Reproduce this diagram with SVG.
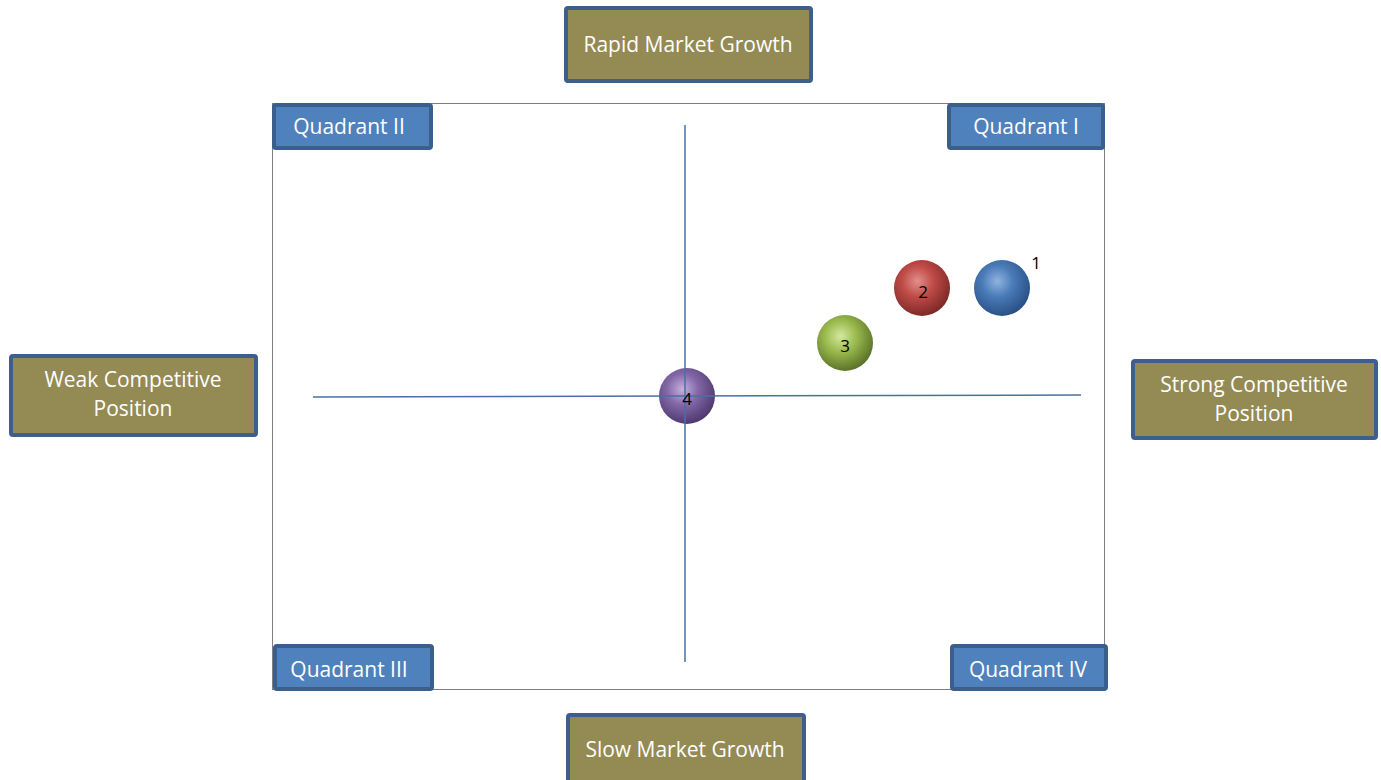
<svg xmlns="http://www.w3.org/2000/svg" width="1381" height="780" viewBox="0 0 1381 780">
<style>
.axis{fill:#948a54;stroke:#3d5f8c;stroke-width:4}
.quad{fill:#4f81bd;stroke:#3a5f8c;stroke-width:4}
.lbl{font-family:"Open Sans","Liberation Sans",sans-serif;font-size:21px;fill:#ffffff;text-anchor:middle}
.num{font-family:"Open Sans","Liberation Sans",sans-serif;font-size:17px;fill:#000;text-anchor:middle}
.line{stroke:#4a6fa5;stroke-width:1.5;fill:none}
</style>
<defs>
<radialGradient id="gBlue" cx="0.42" cy="0.38" r="0.62">
<stop offset="0" stop-color="#8fb4e0"/><stop offset="0.45" stop-color="#4a7bb8"/><stop offset="1" stop-color="#2a5186"/>
</radialGradient>
<radialGradient id="gRed" cx="0.42" cy="0.38" r="0.62">
<stop offset="0" stop-color="#e0908c"/><stop offset="0.45" stop-color="#c04b47"/><stop offset="1" stop-color="#7e2a28"/>
</radialGradient>
<radialGradient id="gGreen" cx="0.42" cy="0.38" r="0.62">
<stop offset="0" stop-color="#d5e8a0"/><stop offset="0.45" stop-color="#9bbb4f"/><stop offset="1" stop-color="#5c7428"/>
</radialGradient>
<radialGradient id="gPurple" cx="0.42" cy="0.38" r="0.62">
<stop offset="0" stop-color="#c4b2dc"/><stop offset="0.45" stop-color="#8368a8"/><stop offset="1" stop-color="#4f3a70"/>
</radialGradient>
</defs>
<rect width="1381" height="780" fill="#ffffff"/>
<rect id="frame" x="272.5" y="103.5" width="832" height="586" fill="none" stroke="#7f7f7f" stroke-width="1"/>
<g id="connectors">
<line class="line" x1="685" y1="125" x2="685" y2="662"/>
<line class="line" x1="313" y1="397" x2="1081" y2="395"/>
</g>
<g id="rapid"><rect class="axis" x="566" y="8" width="245" height="73" rx="2"/><text class="lbl" x="688" y="52">Rapid Market Growth</text></g>
<g id="slow"><rect class="axis" x="568" y="715" width="236" height="70" rx="2"/><text class="lbl" x="685" y="757">Slow Market Growth</text></g>
<g id="weak"><rect class="axis" x="11" y="356" width="245" height="79" rx="2"/><text class="lbl" x="133" y="387">Weak Competitive</text><text class="lbl" x="133" y="416">Position</text></g>
<g id="strong"><rect class="axis" x="1133" y="361" width="243" height="77" rx="2"/><text class="lbl" x="1254" y="392">Strong Competitive</text><text class="lbl" x="1254" y="421">Position</text></g>
<g id="q2"><rect class="quad" x="274" y="105" width="157" height="43" rx="2"/><text class="lbl" x="349" y="134">Quadrant II</text></g>
<g id="q1"><rect class="quad" x="949" y="105" width="154" height="43" rx="2"/><text class="lbl" x="1026" y="134">Quadrant I</text></g>
<g id="q3"><rect class="quad" x="275" y="646" width="157" height="43" rx="2"/><text class="lbl" x="349" y="677">Quadrant III</text></g>
<g id="q4"><rect class="quad" x="952" y="646" width="154" height="43" rx="2"/><text class="lbl" x="1028" y="677">Quadrant IV</text></g>
<g id="b1"><circle cx="1002" cy="288" r="28" fill="url(#gBlue)"/><text class="num" x="1036" y="269">1</text></g>
<g id="b2"><circle cx="922" cy="288" r="28" fill="url(#gRed)"/><text class="num" x="923" y="298">2</text></g>
<g id="b3"><circle cx="845" cy="343" r="28" fill="url(#gGreen)"/><text class="num" x="845" y="352">3</text></g>
<g id="b4"><circle cx="687" cy="396" r="28" fill="url(#gPurple)"/><line class="line" x1="685" y1="368" x2="685" y2="424"/><line class="line" x1="659" y1="396" x2="715" y2="396"/><text class="num" x="687" y="405">4</text></g>
</svg>
